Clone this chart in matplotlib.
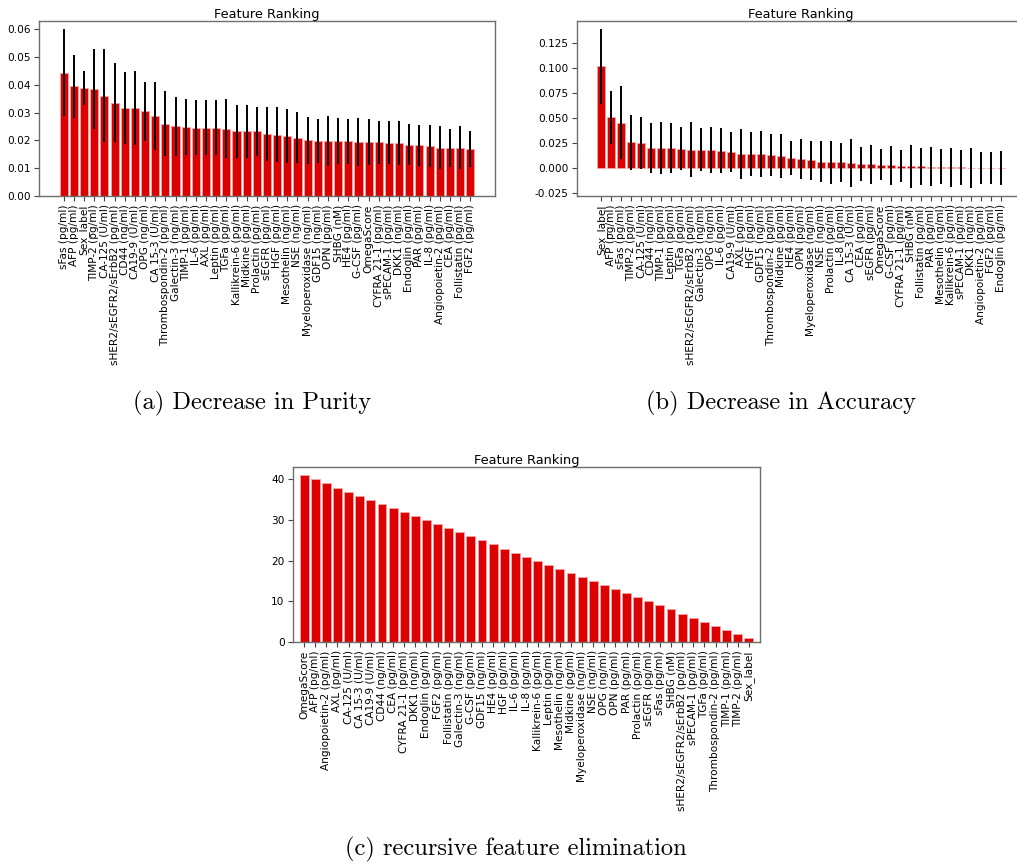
import matplotlib
matplotlib.use("Agg")
import matplotlib.pyplot as plt
import numpy as np

# ---- (a) mean decrease in purity ----
purity_features = [
    "sFas (pg/ml)", "AFP (pg/ml)", "Sex_label", "TIMP-2 (pg/ml)", "CA-125 (U/ml)",
    "sHER2/sEGFR2/sErbB2 (pg/ml)", "CD44 (ng/ml)", "CA19-9 (U/ml)", "OPG (ng/ml)",
    "CA 15-3 (U/ml)", "Thrombospondin-2 (pg/ml)", "Galectin-3 (ng/ml)", "TIMP-1 (pg/ml)",
    "IL-6 (pg/ml)", "AXL (pg/ml)", "Leptin (pg/ml)", "TGFa (pg/ml)", "Kallikrein-6 (pg/ml)",
    "Midkine (pg/ml)", "Prolactin (pg/ml)", "sEGFR (pg/ml)", "HGF (pg/ml)",
    "Mesothelin (ng/ml)", "NSE (ng/ml)", "Myeloperoxidase (ng/ml)", "GDF15 (ng/ml)",
    "OPN (pg/ml)", "SHBG (nM)", "HE4 (pg/ml)", "G-CSF (pg/ml)", "OmegaScore",
    "CYFRA 21-1 (pg/ml)", "sPECAM-1 (pg/ml)", "DKK1 (ng/ml)", "Endoglin (pg/ml)",
    "PAR (pg/ml)", "IL-8 (pg/ml)", "Angiopoietin-2 (pg/ml)", "CEA (pg/ml)",
    "Follistatin (pg/ml)", "FGF2 (pg/ml)",
]
purity_mean = [
    0.0443, 0.0394, 0.0388, 0.0384, 0.0361, 0.0335, 0.0316, 0.0316, 0.0305, 0.0287,
    0.0260, 0.0251, 0.0247, 0.0246, 0.0245, 0.0245, 0.0242, 0.0233, 0.0232, 0.0232,
    0.0222, 0.0221, 0.0215, 0.0210, 0.0200, 0.0198, 0.0198, 0.0198, 0.0196, 0.0194,
    0.0194, 0.0193, 0.0191, 0.0191, 0.0184, 0.0182, 0.0179, 0.0174, 0.0173, 0.0173,
    0.0168,
]
purity_std = [
    0.0156, 0.0113, 0.0062, 0.0144, 0.0166, 0.0142, 0.0130, 0.0133, 0.0106, 0.0122,
    0.0118, 0.0106, 0.0100, 0.0098, 0.0099, 0.0099, 0.0107, 0.0095, 0.0095, 0.0088,
    0.0097, 0.0099, 0.0098, 0.0093, 0.0085, 0.0080, 0.0090, 0.0082, 0.0080, 0.0086,
    0.0082, 0.0078, 0.0077, 0.0078, 0.0074, 0.0074, 0.0075, 0.0076, 0.0067, 0.0077,
    0.0064,
]

# ---- (b) mean decrease in accuracy ----
accuracy_features = [
    "Sex_label", "AFP (pg/ml)", "sFas (pg/ml)", "TIMP-2 (pg/ml)", "CA-125 (U/ml)",
    "CD44 (ng/ml)", "TIMP-1 (pg/ml)", "Leptin (pg/ml)", "TGFa (pg/ml)",
    "sHER2/sEGFR2/sErbB2 (pg/ml)", "Galectin-3 (ng/ml)", "OPG (ng/ml)", "IL-6 (pg/ml)",
    "CA19-9 (U/ml)", "AXL (pg/ml)", "HGF (pg/ml)", "GDF15 (ng/ml)",
    "Thrombospondin-2 (pg/ml)", "Midkine (pg/ml)", "HE4 (pg/ml)", "OPN (pg/ml)",
    "Myeloperoxidase (ng/ml)", "NSE (ng/ml)", "Prolactin (pg/ml)", "IL-8 (pg/ml)",
    "CA 15-3 (U/ml)", "CEA (pg/ml)", "sEGFR (pg/ml)", "OmegaScore", "G-CSF (pg/ml)",
    "CYFRA 21-1 (pg/ml)", "SHBG (nM)", "Follistatin (pg/ml)", "PAR (pg/ml)",
    "Mesothelin (ng/ml)", "Kallikrein-6 (pg/ml)", "sPECAM-1 (pg/ml)", "DKK1 (ng/ml)",
    "Angiopoietin-2 (pg/ml)", "FGF2 (pg/ml)", "Endoglin (pg/ml)",
]
accuracy_mean = [
    0.1017, 0.0507, 0.0450, 0.0255, 0.0248, 0.0198, 0.0198, 0.0195, 0.0188, 0.0180,
    0.0180, 0.0178, 0.0168, 0.0161, 0.0138, 0.0138, 0.0138, 0.0128, 0.0117, 0.0100,
    0.0087, 0.0074, 0.0060, 0.0054, 0.0054, 0.0047, 0.0037, 0.0034, 0.0030, 0.0023,
    0.0020, 0.0013, 0.0013, 0.0010, 0.0010, 0.0003, 0.0002, 0.0000, -0.0002, -0.0003,
    -0.0004,
]
accuracy_std = [
    0.0375, 0.0265, 0.0366, 0.0275, 0.0260, 0.0252, 0.0258, 0.0251, 0.0215, 0.0279,
    0.0215, 0.0232, 0.0225, 0.0200, 0.0252, 0.0222, 0.0228, 0.0210, 0.0220, 0.0170,
    0.0205, 0.0196, 0.0205, 0.0216, 0.0195, 0.0242, 0.0171, 0.0197, 0.0152, 0.0196,
    0.0160, 0.0218, 0.0183, 0.0193, 0.0174, 0.0199, 0.0175, 0.0200, 0.0160, 0.0160,
    0.0172,
]

# ---- (c) recursive feature elimination ranking ----
rfe_features = [
    "OmegaScore", "AFP (pg/ml)", "Angiopoietin-2 (pg/ml)", "AXL (pg/ml)", "CA-125 (U/ml)",
    "CA 15-3 (U/ml)", "CA19-9 (U/ml)", "CD44 (ng/ml)", "CEA (pg/ml)", "CYFRA 21-1 (pg/ml)",
    "DKK1 (ng/ml)", "Endoglin (pg/ml)", "FGF2 (pg/ml)", "Follistatin (pg/ml)",
    "Galectin-3 (ng/ml)", "G-CSF (pg/ml)", "GDF15 (ng/ml)", "HE4 (pg/ml)", "HGF (pg/ml)",
    "IL-6 (pg/ml)", "IL-8 (pg/ml)", "Kallikrein-6 (pg/ml)", "Leptin (pg/ml)",
    "Mesothelin (ng/ml)", "Midkine (pg/ml)", "Myeloperoxidase (ng/ml)", "NSE (ng/ml)",
    "OPG (ng/ml)", "OPN (pg/ml)", "PAR (pg/ml)", "Prolactin (pg/ml)", "sEGFR (pg/ml)",
    "sFas (pg/ml)", "SHBG (nM)", "sHER2/sEGFR2/sErbB2 (pg/ml)", "sPECAM-1 (pg/ml)",
    "TGFa (pg/ml)", "Thrombospondin-2 (pg/ml)", "TIMP-1 (pg/ml)", "TIMP-2 (pg/ml)",
    "Sex_label",
]
rfe_rank = [
    41, 40, 39, 38, 37, 36, 35, 34, 33, 32, 31, 30, 29, 28, 27, 26, 25, 24, 23, 22, 21,
    20, 19, 18, 17, 16, 15, 14, 13, 12, 11, 10, 9, 8, 7, 6, 5, 4, 3, 2, 1,
]

W, H = 1017, 866
fig = plt.figure(figsize=(W / 100, H / 100), dpi=100)

BAR = "#dc0000"
EDGE = "#f4a6a6"
SPINE = "#6e6e6e"
TICK_FS = 7.6


def px_axes(x0, y0, x1, y1):
    return fig.add_axes([x0 / W, 1 - y1 / H, (x1 - x0) / W, (y1 - y0) / H])


def style(ax):
    for s in ax.spines.values():
        s.set_color(SPINE)
        s.set_linewidth(1.0)
    ax.tick_params(labelsize=TICK_FS, length=3.5, width=0.8, color="#444444", pad=2.5)
    ax.set_title("Feature Ranking", fontsize=9.3, pad=1.5)


def ranking_panel(ax, names, vals, err=None, xlim=None):
    x = np.arange(len(names))
    kw = dict(color=BAR, edgecolor=EDGE, linewidth=0.6, align="center")
    if err is not None:
        ax.bar(x, vals, yerr=err, error_kw=dict(ecolor="black", elinewidth=1.4, capsize=0), **kw)
    else:
        ax.bar(x, vals, **kw)
    ax.set_xticks(x)
    ax.set_xticklabels(names, rotation=90)
    if xlim is not None:
        ax.set_xlim(*xlim)
    style(ax)


ax_a = px_axes(39, 21, 495, 196)
ranking_panel(ax_a, purity_features, purity_mean, purity_std)
ax_a.set_yticks(np.arange(0, 0.061, 0.01))

ax_b = px_axes(577, 21, 1025, 196)
ranking_panel(ax_b, accuracy_features, accuracy_mean, accuracy_std)
ax_b.set_yticks(np.arange(-0.025, 0.13, 0.025))
ax_b.yaxis.set_major_formatter(matplotlib.ticker.FormatStrFormatter("%.3f"))

ax_c = px_axes(293, 467, 760, 642)
ranking_panel(ax_c, rfe_features, rfe_rank, xlim=(-1, len(rfe_features)))
ax_c.set_yticks([0, 10, 20, 30, 40])

cap = dict(family="cmr10", fontsize=17.6, ha="center", va="center")
fig.text(252 / W, 1 - 403 / H, "(a) Decrease in Purity", **cap)
fig.text(781 / W, 1 - 403 / H, "(b) Decrease in Accuracy", **cap)
fig.text(516 / W, 1 - 849 / H, "(c) recursive feature elimination", **cap)

fig.savefig("out.png", dpi=100)
